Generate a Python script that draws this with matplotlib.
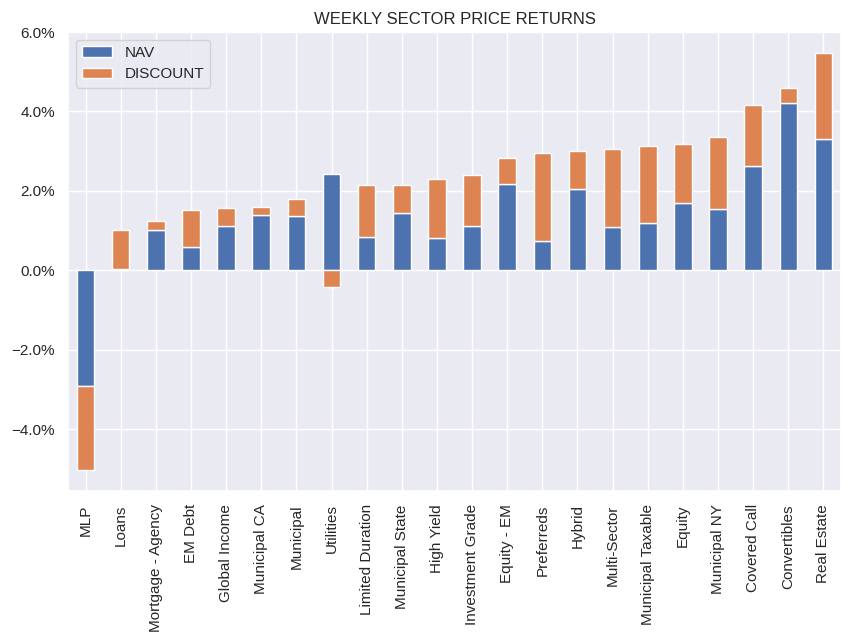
import matplotlib
matplotlib.use("Agg")
import matplotlib.pyplot as plt
import seaborn as sns
import pandas as pd
from matplotlib.ticker import FuncFormatter

categories = ["MLP", "Loans", "Mortgage - Agency", "EM Debt", "Global Income",
              "Municipal CA", "Municipal", "Utilities", "Limited Duration",
              "Municipal State", "High Yield", "Investment Grade", "Equity - EM",
              "Preferreds", "Hybrid", "Multi-Sector", "Municipal Taxable",
              "Equity", "Municipal NY", "Covered Call", "Convertibles", "Real Estate"]
nav = [-2.90, 0.04, 1.03, 0.58, 1.13, 1.39, 1.36, 2.42, 0.84, 1.44, 0.81,
       1.12, 2.17, 0.74, 2.04, 1.09, 1.19, 1.70, 1.54, 2.63, 4.21, 3.31]
discount = [-2.125, 0.99, 0.21, 0.93, 0.43, 0.21, 0.43, -0.42, 1.31, 0.72, 1.48,
            1.28, 0.66, 2.22, 0.97, 1.97, 1.94, 1.48, 1.82, 1.53, 0.38, 2.165]

sns.set_theme()
plt.rcParams['font.family'] = ['Liberation Sans', 'DejaVu Sans']

df = pd.DataFrame({"NAV": nav, "DISCOUNT": discount}, index=categories)

fig, ax = plt.subplots(figsize=(8.51, 6.43), dpi=100)
fig.subplots_adjust(left=68/851, right=841/851, top=1-32/643, bottom=1-491/643)
df.plot(kind="bar", stacked=True, ax=ax)
ax.set_title("WEEKLY SECTOR PRICE RETURNS")
ax.yaxis.set_major_formatter(FuncFormatter(lambda v, p: f"{v:.1f}%".replace("-", "\u2212")))
ax.legend(loc="upper left")
fig.savefig("out.png", dpi=100)
